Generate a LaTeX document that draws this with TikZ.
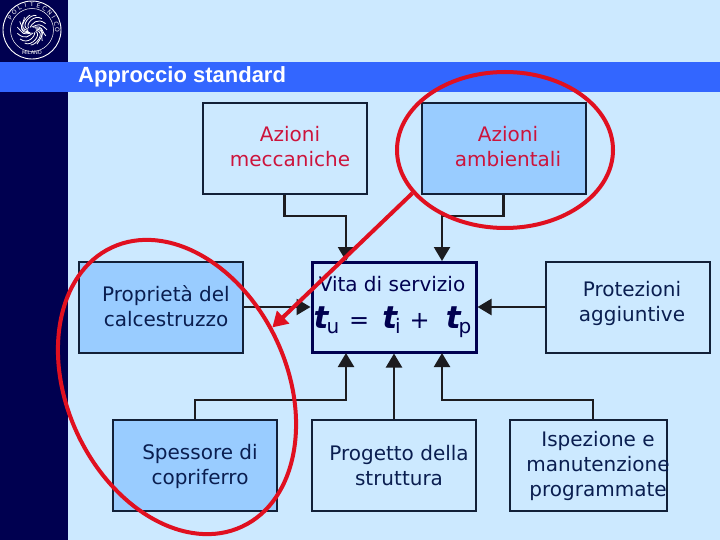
\documentclass[tikz,border=0pt]{standalone}
\usepackage{fontspec}
\setmainfont{DejaVu Sans}
\newfontfamily\titlefont{Liberation Sans}
\usetikzlibrary{arrows.meta, shapes.geometric, positioning, calc}
\definecolor{slidebg}   {RGB}{204, 233, 255}
\definecolor{slidenavy} {RGB}{  0,   0,  80}
\definecolor{slideband} {RGB}{ 51, 102, 255}
\definecolor{boxblue}   {RGB}{153, 204, 255}
\definecolor{boxdark}   {RGB}{ 18,  32,  56}
\definecolor{linkdark}  {RGB}{ 28,  28,  32}
\definecolor{textdark}  {RGB}{ 10,  30,  80}
\definecolor{markred}   {RGB}{224,  16,  32}
\definecolor{textred}   {RGB}{204,  20,  60}
\newcommand{\boxfont}{\fontsize{20}{25}\selectfont}
\newcommand{\termt}[1]{{\fontsize{31}{31}\selectfont\bfseries\itshape t}\hspace{-2pt}\raisebox{-5pt}{\fontsize{20}{20}\selectfont #1}}
\tikzset{
	box/.style={draw=boxdark, line width=2pt, minimum width=164pt, minimum height=91pt, inner sep=0pt},
	boxfill/.style={box, fill=boxblue},
	boxtext/.style={font=\boxfont, align=center, text=textdark, inner sep=0pt},
	link/.style={draw=linkdark, line width=2.2pt, -{Triangle[width=16pt,length=14pt]}},
	ring/.style={draw=markred, line width=4pt, shape=ellipse, inner sep=0pt}
}
\begin{document}
\begin{tikzpicture}[x=1pt,y=-1pt]
	\useasboundingbox (0,0) rectangle (720,540);
	\fill[slidebg] (0,0) rectangle (720,540);
	\fill[slidenavy] (0,0) rectangle (68,540);
	\fill[slideband] (0,62) rectangle (720,92);
	\node[font=\titlefont\bfseries\fontsize{22}{22}\selectfont, text=white, anchor=west, inner sep=0pt] (title) at (78,77) {Approccio standard};

	% logo
	\coordinate (seal) at (32,30);
	\draw[white, line width=0.9pt] (seal) circle (29);
	\draw[white, line width=0.5pt] (seal) circle (21.5);
	\foreach \ch [count=\i] in {P,O,L,I,T,E,C,N,I,C,O}{
		\node[text=white, font=\fontsize{6}{6}\selectfont, inner sep=0pt, rotate={75-15*\i}] at ($(seal)+({165-15*\i}:25.2 and -25.2)$) {\ch};
	}
	\node[text=white, font=\fontsize{5}{5}\selectfont, inner sep=0pt] (sealname) at (32,53) {MILANO};
	\foreach \a in {0,24,...,344}{
		\draw[white, line width=0.8pt] ($(seal)+(\a:4 and 3)$) .. controls ($(seal)+(\a+30:17 and 6)$) and ($(seal)+(\a+70:8 and 17)$) .. ($(seal)+(\a+95:15)$);
	}

	% boxes
	\node[box] (mecc) at (284.5,148.5) {};
	\node[boxfill] (amb) at (503.5,148.5) {};
	\node[boxfill] (cls) at (161,307) {};
	\node[box] (prot) at (627.5,307) {};
	\node[boxfill] (copr) at (195,465.5) {};
	\node[box] (prog) at (394,465.5) {};
	\node[box, minimum width=157pt] (isp) at (588.5,465.5) {};
	\node[draw=slidenavy, line width=3pt, minimum width=164pt, minimum height=90pt, inner sep=0pt] (vita) at (394,307) {};

	% texts
	\node[boxtext, text=textred] (mecctxt) at (290,147) {Azioni\\meccaniche};
	\node[boxtext, text=textred] (ambtxt) at (508,147) {Azioni\\ambientali};
	\node[boxtext] (clstxt) at (166,306) {Proprietà del\\calcestruzzo};
	\node[boxtext] (prottxt) at (632,303.5) {Protezioni\\aggiuntive};
	\node[boxtext] (coprtxt) at (200,466) {Spessore di\\copriferro};
	\node[boxtext] (progtxt) at (399,466) {Progetto della\\struttura};
	\node[boxtext] (isptxt) at (598,466) {Ispezione e\\manutenzione\\programmate};
	\node[boxtext, text=slidenavy] (vitatxt) at (392,284) {Vita di servizio};
	\node[text=slidenavy, font=\fontsize{24}{24}\selectfont, inner sep=0pt] (eqtxt) at (392.5,322) {\termt{u}\hspace{10pt}=\hspace{13pt}\termt{i}\hspace{9pt}+\hspace{16pt}\termt{p}};

	% connectors
	\coordinate (vitaNL) at (346,261);
	\coordinate (vitaNR) at (442,261);
	\coordinate (vitaSL) at (346,353);
	\coordinate (vitaSR) at (442,353);
	\draw[link] (mecc.south) -- ++(0,21) -| (vitaNL);
	\draw[link] (amb.south) -- ++(0,21) -| (vitaNR);
	\draw[link] (cls.east) -- (vita.west);
	\draw[link] (prot.west) -- (vita.east);
	\draw[link] (copr.north) -- ++(0,-19) -| (vitaSL);
	\draw[link] (prog.north) -- (vita.south);
	\draw[link] ($(isp.north)+(4.5,0)$) -- ++(0,-19) -| (vitaSR);

	% red marks
	\node[ring, minimum width=216pt, minimum height=156pt] (ringamb) at (505,150) {};
	\node[ring, minimum width=308pt, minimum height=220pt, rotate=-65] (ringcls) at (177,387) {};
	\draw[draw=markred, line width=4pt, -{Triangle[width=17pt,length=15pt]}] (ringamb.205) -- (ringcls.97);
\end{tikzpicture}
\end{document}
